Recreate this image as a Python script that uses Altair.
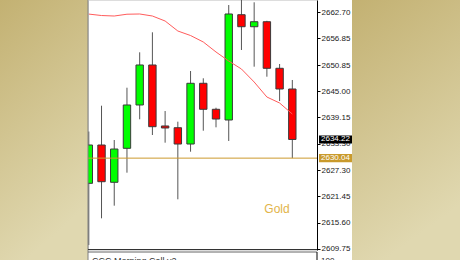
import altair as alt
import pandas as pd

# ---- data ----
idx = list(range(17))
opens  = [2624.40, 2632.98, 2624.63, 2632.24, 2641.94, 2650.90, 2637.24, 2636.85, 2633.20,
          2646.80, 2640.98, 2638.58, 2662.16, 2659.47, 2660.59, 2650.16, 2645.52]
closes = [2632.98, 2624.76, 2632.08, 2641.94, 2650.90, 2637.08, 2636.79, 2633.20, 2646.80,
          2640.98, 2638.80, 2662.32, 2659.47, 2660.59, 2650.16, 2645.52, 2634.22]
highs  = [2636.00, 2641.78, 2634.10, 2645.81, 2653.74, 2658.22, 2640.59, 2638.20, 2649.55,
          2647.92, 2641.33, 2664.33, 2667.00, 2664.94, 2660.80, 2651.12, 2647.54]
lows   = [2610.58, 2616.56, 2619.39, 2626.78, 2638.74, 2635.22, 2633.50, 2620.82, 2631.48,
          2636.18, 2636.94, 2633.88, 2654.26, 2650.52, 2648.28, 2642.83, 2630.04]
ma     = [2662.30, 2661.98, 2661.87, 2662.27, 2662.32, 2661.87, 2660.75, 2658.51, 2657.50,
          2656.05, 2653.81, 2651.79, 2650.00, 2647.09, 2643.73, 2642.39, 2639.92]
tick_vals = [2609.75, 2615.60, 2621.45, 2627.30, 2633.30, 2639.15, 2645.00, 2650.85, 2656.85, 2662.70]
bid_price = 2634.22
gold_level = 2630.04
symbol_label = "Gold"
indicator_label = "CCC Morning Call v2"
indicator_tick = "100"

df = pd.DataFrame({"i": idx, "open": opens, "close": closes, "high": highs, "low": lows, "ma": ma})

W, H = 229, 250
xs = alt.Scale(domain=[-0.063, 17.94], nice=False, zero=False, padding=0)
ys = alt.Scale(domain=[2609.465, 2665.455], nice=False, zero=False, padding=0)

yaxis = alt.Axis(orient="right", values=tick_vals, format=".2f", grid=False, title=None,
                 tickSize=3, tickColor="#000000", domainColor="#000000",
                 labelFont="Liberation Sans", labelFontSize=8, labelColor="#1a1a1a",
                 labelPadding=1, labelOverlap=False, labelFlush=False)

one = pd.DataFrame({"a": [0]})
grad = {"gradient": "linear", "x1": 0, "y1": 0, "x2": 0.3, "y2": 1,
        "stops": [{"offset": 0, "color": "#C3B172"}, {"offset": 1, "color": "#E0D8B0"}]}

bg_left = alt.Chart(one).mark_rect(fill=grad).encode(
    x=alt.value(-88), x2=alt.value(0), y=alt.value(0), y2=alt.value(260))
bg_right = alt.Chart(one).mark_rect(fill=grad).encode(
    x=alt.value(264), x2=alt.value(372), y=alt.value(0), y2=alt.value(260))

base = alt.Chart(df)

wicks = base.mark_rule(color="#555555", strokeWidth=1, clip=True).encode(
    x=alt.X("i:Q", scale=xs, axis=None),
    y=alt.Y("low:Q", scale=ys, axis=yaxis),
    y2="high:Q",
)

bodies = base.mark_bar(size=7.4, stroke="#3a3a3a", strokeWidth=1, clip=True).encode(
    x=alt.X("i:Q", scale=xs, axis=None),
    y=alt.Y("open:Q", scale=ys, axis=yaxis),
    y2="close:Q",
    fill=alt.condition("datum.close >= datum.open", alt.value("#00FF00"), alt.value("#FF0000")),
)

ma_line = base.mark_line(color="#FF5C5C", strokeWidth=1, clip=True).encode(
    x=alt.X("i:Q", scale=xs, axis=None),
    y=alt.Y("ma:Q", scale=ys, axis=yaxis),
)

gold_df = pd.DataFrame({"v": [gold_level]})
gold_line = alt.Chart(gold_df).mark_rule(color="#CC9A2E", strokeWidth=1).encode(
    y=alt.Y("v:Q", scale=ys, axis=yaxis), x=alt.value(0), x2=alt.value(W))

boxes_df = pd.DataFrame({"v": [bid_price, gold_level], "kind": ["bid", "gold"]})
boxes_df["lab"] = [f"{v:.2f}" for v in boxes_df["v"]]
boxes = alt.Chart(boxes_df).transform_calculate(
    lo="datum.v - 0.9", hi="datum.v + 0.9"
).mark_rect().encode(
    y=alt.Y("lo:Q", scale=ys, axis=yaxis), y2="hi:Q",
    x=alt.value(231), x2=alt.value(264),
    fill=alt.condition("datum.kind == 'bid'", alt.value("#000000"), alt.value("#C99A2C")),
)
box_text = alt.Chart(boxes_df).mark_text(align="left", baseline="middle", font="Liberation Sans",
                                         fontSize=8, color="#FFFFFF").encode(
    y=alt.Y("v:Q", scale=ys, axis=yaxis), x=alt.value(233), text="lab:N")

sym = alt.Chart(one).mark_text(align="center", baseline="alphabetic", font="Liberation Sans",
                               fontSize=12, color="#E2B449").encode(
    x=alt.value(189), y=alt.value(213), text=alt.value(symbol_label))

# frame / lower pane decorations
left_border = alt.Chart(one).mark_rule(color="#808080", strokeWidth=1).encode(
    x=alt.value(0), y=alt.value(0), y2=alt.value(260))
bot1 = alt.Chart(one).mark_rule(color="#333333", strokeWidth=1).encode(
    x=alt.value(0), x2=alt.value(W), y=alt.value(249.5))
bot2 = alt.Chart(one).mark_rule(color="#666666", strokeWidth=1).encode(
    x=alt.value(0), x2=alt.value(W), y=alt.value(252))
right_lower = alt.Chart(one).mark_rule(color="#000000", strokeWidth=1).encode(
    x=alt.value(W), y=alt.value(252), y2=alt.value(260))
ind_text = alt.Chart(one).mark_text(align="left", baseline="alphabetic", font="Liberation Sans",
                                    fontSize=9, color="#333333").encode(
    x=alt.value(4), y=alt.value(264), text=alt.value(indicator_label))
ind_tick = alt.Chart(one).mark_text(align="left", baseline="alphabetic", font="Liberation Sans",
                                    fontSize=8, color="#1a1a1a").encode(
    x=alt.value(233), y=alt.value(263), text=alt.value(indicator_tick))

chart = alt.layer(
    bg_left, bg_right, wicks, bodies, ma_line, gold_line, sym,
    boxes, box_text, left_border, bot1, bot2, right_lower, ind_text, ind_tick
).properties(
    width=W, height=H,
    autosize=alt.AutoSizeParams(type="none"),
    padding={"left": 88, "top": 0, "right": 460 - 88 - W, "bottom": 260 - H},
).configure_view(stroke=None).configure_axis(labelOverlap=False).configure(background="#FFFFFF")

chart.save("out.html", embed_options={"renderer": "svg", "actions": False})
